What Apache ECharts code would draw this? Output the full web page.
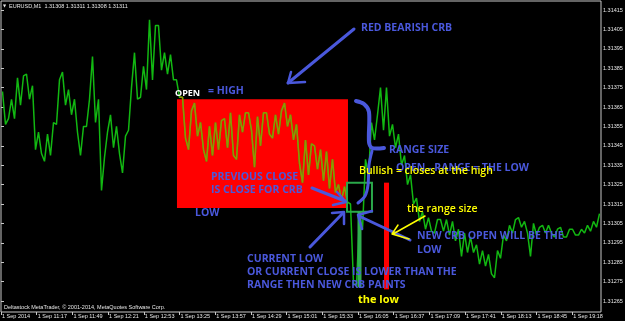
<!DOCTYPE html>
<html><head><meta charset="utf-8">
<script src="https://cdn.jsdelivr.net/npm/echarts@6/dist/echarts.min.js"></script>
<style>html,body{margin:0;padding:0;background:#000;}#c{width:625px;height:321px;}</style>
</head><body><div id="c"></div>
<script>
// ---- data (x in bar-columns, y in price) ----
const timeLabels = ["1 Sep 2014","1 Sep 11:17","1 Sep 11:49","1 Sep 12:21","1 Sep 12:53","1 Sep 13:25","1 Sep 13:57","1 Sep 14:29","1 Sep 15:01","1 Sep 15:33","1 Sep 16:05","1 Sep 16:37","1 Sep 17:09","1 Sep 17:41","1 Sep 18:13","1 Sep 18:45","1 Sep 19:18"];
const priceTicks = [1.31265,1.31275,1.31285,1.31295,1.31305,1.31315,1.31325,1.31335,1.31345,1.31355,1.31365,1.31375,1.31385,1.31395,1.31405,1.31415];
const highs = [1.31373,1.31369,1.31380,1.31381,1.31382,1.31376,1.31352,1.31351,1.31357,1.31379,
1.31383,1.31374,1.31369,1.31355,1.31369,1.31391,1.31369,1.31352,1.31361,1.31355,
1.31350,1.31375,1.31393,1.31386,1.31410,1.31407,1.31407,1.31393,1.31392,1.31379,
1.31370,1.31363,1.31367,1.31357,1.31355,1.31357,1.31358,1.31359,1.31362,1.31361,
1.31362,1.31362,1.31360,1.31362,1.31362,1.31361,1.31363,1.31367,1.31361,1.31356,
1.31348,1.31346,1.31345,1.31343,1.31342,1.31338,1.31325,1.31324,1.31315,1.31309,
1.31338,1.31357,1.31361,1.31375,1.31375,1.31356,1.31351,1.31340,1.31330,1.31318,
1.31311,1.31308,1.31307,1.31307,1.31307,1.31306,1.31302,1.31300,1.31298,1.31294,
1.31291,1.31289,1.31291,1.31299,1.31304,1.31307,1.31308,1.31306,1.31305,1.31303,
1.31304,1.31304,1.31302,1.31303,1.31302,1.31302,1.31302,1.31304,1.31306,1.31310];
const lows = [1.31356,1.31359,1.31359,1.31366,1.31369,1.31343,1.31341,1.31337,1.31340,1.31356,
1.31366,1.31361,1.31352,1.31340,1.31355,1.31357,1.31322,1.31339,1.31344,1.31341,
1.31331,1.31353,1.31369,1.31370,1.31374,1.31379,1.31384,1.31382,1.31379,1.31370,
1.31349,1.31343,1.31350,1.31343,1.31337,1.31340,1.31343,1.31344,1.31340,1.31338,
1.31352,1.31353,1.31334,1.31345,1.31351,1.31349,1.31351,1.31355,1.31348,1.31336,
1.31326,1.31330,1.31333,1.31327,1.31323,1.31321,1.31317,1.31316,1.31274,1.31273,
1.31302,1.31330,1.31348,1.31353,1.31350,1.31344,1.31335,1.31325,1.31315,1.31306,
1.31302,1.31301,1.31300,1.31301,1.31299,1.31296,1.31288,1.31290,1.31290,1.31284,
1.31283,1.31279,1.31277,1.31287,1.31296,1.31300,1.31303,1.31300,1.31288,1.31299,
1.31300,1.31300,1.31298,1.31298,1.31298,1.31299,1.31299,1.31300,1.31301,1.31303];
const lastPrice = 1.31311;
const crbStart = 29.33, crbEnd = 57.83, crbOpen = 1.31369, crbLow = 1.31313;
const boxStart = 57.67, boxEnd = 61.83, boxHigh = 1.31326, boxLow = 1.31311;
const wickX = 59.75, wickTop = 1.31311, wickBottom = 1.31272;
const rangeX = 64.25, rangeTop = 1.31326, rangeBottom = 1.31271;

// ---- build ----
const LABEL_STEP = 5.95;
const labelPos = timeLabels.map((_, k) => +(k * LABEL_STEP).toFixed(2));
const pts = [];
for (let i = 0; i < highs.length; i++) {
  const j = i < highs.length - 1 ? i + 1 : i - 1;
  const rising = i < highs.length - 1 ? (highs[j] + lows[j]) > (highs[i] + lows[i]) : (highs[i] + lows[i]) > (highs[j] + lows[j]);
  const a = rising ? lows[i] : highs[i];
  const b = rising ? highs[i] : lows[i];
  pts.push([i + 0.25, a]);
  pts.push([i + 0.75, b]);
}
const ptsInside = pts.map(p => (p[0] >= crbStart && p[0] <= crbEnd) ? p : [p[0], null]);

const BLUE = '#4a58dc';
const BF = 'bold 10.5px "Open Sans"';
function txt(x, y, t, fill, font) {
  return {type:'text', x:x, y:y, z:100, style:{text:t, fill:fill, font:font, verticalAlign:'middle', align:'left'}};
}
function pl(points, color, w, smooth) {
  return {type:'polyline', z:100, shape:{points:points, smooth:smooth||0}, style:{stroke:color, lineWidth:w, fill:null, lineCap:'round', lineJoin:'round'}};
}

const chart = echarts.init(document.getElementById('c'), null, {renderer:'canvas'});
chart.setOption({
  animation:false,
  backgroundColor:'#000',
  grid:{left:1, top:1, width:600, height:311, show:true, borderColor:'#c8c8c8', borderWidth:1, backgroundColor:'#000', outerBoundsMode:'none', containLabel:false},
  xAxis:{type:'value', min:0, max:100, splitLine:{show:false}, axisLine:{show:false},
    axisTick:{show:true, customValues:labelPos, length:3, lineStyle:{color:'#c8c8c8'}},
    axisLabel:{customValues:labelPos, formatter:v => timeLabels[Math.round(v / LABEL_STEP)], align:'left', margin:1, fontSize:5.5, color:'#e6e6e6', fontFamily:'Liberation Sans', padding:[0,0,0,1]}},
  yAxis:{type:'value', position:'right', min:1.3125933, max:1.3141964, splitLine:{show:false}, axisLine:{show:false},
    axisTick:{show:true, customValues:priceTicks, length:3, lineStyle:{color:'#c8c8c8'}},
    axisLabel:{customValues:priceTicks, formatter:v => v.toFixed(5), margin:2, fontSize:5.5, color:'#e6e6e6', fontFamily:'Liberation Sans'}},
  series:[
    {type:'custom', z:1, clip:false, silent:true,
      data:[[crbStart, crbEnd, crbOpen, crbLow]],
      renderItem:(p, api) => {
        const a = api.coord([api.value(0), api.value(2)]);
        const b = api.coord([api.value(1), api.value(3)]);
        return {type:'rect', shape:{x:a[0], y:a[1], width:b[0]-a[0], height:b[1]-a[1]}, style:{fill:'#ff0000'}};
      }},
    {type:'line', z:3, data:pts, showSymbol:false, silent:true, lineStyle:{width:1.5, color:'#12b812'}, itemStyle:{color:'#12b812'},
      markLine:{symbol:'none', silent:true, data:[{yAxis:lastPrice}], lineStyle:{color:'#7a8898', width:1, type:'solid'},
        label:{show:true, position:'end', distance:1, formatter:p => p.value.toFixed(5), backgroundColor:'#ffffff', color:'#000', fontSize:5.5, fontFamily:'Liberation Sans', padding:[1,2,1,2]}}},
    {type:'line', z:4, data:ptsInside, showSymbol:false, silent:true, connectNulls:false, lineStyle:{width:1.5, color:'#949400'}, itemStyle:{color:'#949400'}},
    {type:'custom', z:5, clip:false, silent:true,
      data:[[boxStart, boxEnd, boxHigh, boxLow, 0],[wickX, wickX, wickTop, wickBottom, 1],[rangeX, rangeX, rangeTop, rangeBottom, 2]],
      renderItem:(p, api) => {
        const a = api.coord([api.value(0), api.value(2)]);
        const b = api.coord([api.value(1), api.value(3)]);
        const k = api.value(4);
        if (k === 0) return {type:'rect', shape:{x:a[0], y:a[1], width:b[0]-a[0], height:b[1]-a[1]}, style:{fill:null, stroke:'#2aa84a', lineWidth:2}};
        if (k === 1) return {type:'rect', shape:{x:a[0]-2, y:a[1], width:4, height:b[1]-a[1]}, style:{fill:'#30b050'}};
        return {type:'rect', shape:{x:a[0]-2.5, y:a[1], width:5, height:b[1]-a[1]}, style:{fill:'#ff0000'}};
      }}
  ],
  graphic:[
    txt(3, 6, '\u25BC', '#e6e6e6', '4px "DejaVu Sans"'),
    txt(9, 6, 'EURUSD,M1  1.31308 1.31311 1.31308 1.31311', '#e6e6e6', '5.5px "Liberation Sans"'),
    txt(4, 307, 'Deltastock MetaTrader, \u00A9 2001-2014, MetaQuotes Software Corp.', '#e6e6e6', '5.5px "Liberation Sans"'),
    // blue arrows & brace
    pl([[354,29],[288,83]], BLUE, 3),
    pl([[291,72],[288,83],[305,82]], BLUE, 2.5),
    pl([[356,101],[364,104],[369,112],[369,142],[372,148],[384,148]], BLUE, 4, 0.3),
    pl([[372,151],[369,165],[368,185],[365,196],[358,203]], BLUE, 3, 0.3),
    pl([[312,188],[345,201]], BLUE, 3),
    pl([[333,205],[346,202],[337,192]], BLUE, 2.5),
    pl([[310,247],[343,213]], BLUE, 3),
    pl([[332,213],[344,212],[344,224]], BLUE, 2.5),
    pl([[410,240],[361,217]], BLUE, 3),
    pl([[372,211],[358,215],[362,229]], BLUE, 2.5),
    pl([[425,216],[393,234]], '#ffff00', 1.5),
    pl([[398,225],[392,234],[409,239]], '#ffff00', 1.5),
    // texts
    txt(361, 28, 'RED BEARISH CRB', BLUE, BF),
    txt(175, 93, 'OPEN', '#ffffff', 'bold 9px "Open Sans"'),
    txt(208, 91, '= HIGH', BLUE, BF),
    txt(211, 177, 'PREVIOUS CLOSE', BLUE, BF),
    txt(211, 190, 'IS CLOSE FOR CRB', BLUE, BF),
    txt(195, 213, 'LOW', BLUE, BF),
    txt(389, 150, 'RANGE SIZE', BLUE, BF),
    txt(396, 168, 'OPEN - RANGE = THE LOW', BLUE, BF),
    txt(359, 171, 'Bullish = closes at the high', '#ffff00', '600 10.5px "Open Sans"'),
    txt(407, 209, 'the range size', '#ffff00', '600 10.5px "Open Sans"'),
    txt(417, 236, 'NEW CRB OPEN WILL BE THE', BLUE, BF),
    txt(417, 250, 'LOW', BLUE, BF),
    txt(247, 259, 'CURRENT LOW', BLUE, BF),
    txt(247, 272, 'OR CURRENT CLOSE IS LOWER THAN THE', BLUE, BF),
    txt(247, 285, 'RANGE THEN NEW CRB PAINTS', BLUE, BF),
    txt(358, 300, 'the low', '#ffff00', 'bold 11px "Open Sans"')
  ]
});
</script></body></html>
